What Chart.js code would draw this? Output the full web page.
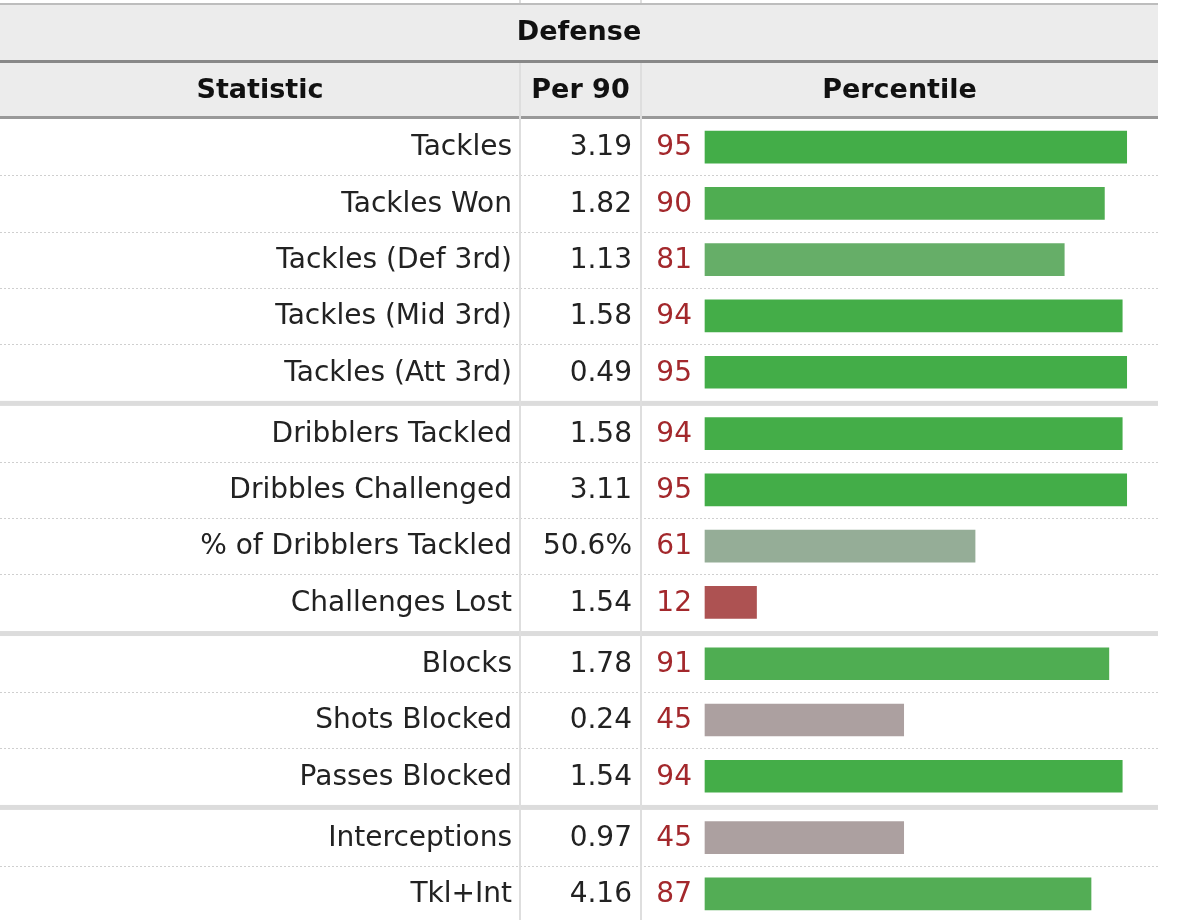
<!DOCTYPE html>
<html>
<head>
<meta charset="utf-8">
<script src="https://cdn.jsdelivr.net/npm/chart.js@4.4.1/dist/chart.umd.min.js"></script>
<style>
  html, body { margin: 0; padding: 0; background: #fff; overflow: hidden; }
  #wrap { position: relative; width: 1182px; height: 930px; }
</style>
</head>
<body>
<div id="wrap"><canvas id="defenseChart"></canvas></div>
<script>
const statistics = [
  "Tackles",
  "Tackles Won",
  "Tackles (Def 3rd)",
  "Tackles (Mid 3rd)",
  "Tackles (Att 3rd)",
  "Dribblers Tackled",
  "Dribbles Challenged",
  "% of Dribblers Tackled",
  "Challenges Lost",
  "Blocks",
  "Shots Blocked",
  "Passes Blocked",
  "Interceptions",
  "Tkl+Int",
];
const per90 = ["3.19", "1.82", "1.13", "1.58", "0.49", "1.58", "3.11", "50.6%", "1.54", "1.78", "0.24", "1.54", "0.97", "4.16"];
const percentiles = [95, 90, 81, 94, 95, 94, 95, 61, 12, 91, 45, 94, 45, 87];
// which block of the table each row belongs to
const groups = [0, 0, 0, 0, 0, 1, 1, 1, 1, 2, 2, 2, 3, 3];

const barColors = [
  "#43ad48", "#4fad51", "#66ae68", "#44ad48", "#43ad48",
  "#44ad48", "#43ad48", "#95ad97", "#ad5252",
  "#4fad52", "#aca0a0", "#44ad48",
  "#aca0a0", "#53ad55",
];

const FONT = "'DejaVu Sans', Verdana, sans-serif";
const TABLE_RIGHT = 1158;
const COL1 = 520;
const COL2 = 641;
const GROUP_GAP = 0.09; // extra row-height between blocks

// row slot on the y scale: row index plus a small gap per block
const rowSlot = (i) => i + groups[i] * GROUP_GAP;
const lastSlot = rowSlot(statistics.length - 1);

const tableDecor = {
  id: "tableDecor",
  beforeDraw(chart) {
    const ctx = chart.ctx;
    const y = chart.scales.y;
    ctx.save();
    ctx.fillStyle = "#fff";
    ctx.fillRect(0, 0, chart.width, chart.height);

    // header band
    ctx.fillStyle = "#ececec";
    ctx.fillRect(0, 5, TABLE_RIGHT, 112);
    ctx.fillStyle = "#bdbdbd";
    ctx.fillRect(0, 3, TABLE_RIGHT, 2);
    ctx.fillStyle = "#888";
    ctx.fillRect(0, 60, TABLE_RIGHT, 3);
    ctx.fillStyle = "#999";
    ctx.fillRect(0, 116, TABLE_RIGHT, 3);

    // row separators
    for (let i = 0; i < statistics.length - 1; i++) {
      const yb = (y.getPixelForValue(rowSlot(i)) + y.getPixelForValue(rowSlot(i + 1))) / 2;
      if (groups[i] !== groups[i + 1]) {
        ctx.fillStyle = "#dcdcdc";
        ctx.fillRect(0, yb - 2, TABLE_RIGHT, 5);
      } else {
        ctx.strokeStyle = "#cfcfcf";
        ctx.lineWidth = 1;
        ctx.setLineDash([2, 2]);
        ctx.beginPath();
        ctx.moveTo(0, Math.round(yb) + 0.5);
        ctx.lineTo(TABLE_RIGHT, Math.round(yb) + 0.5);
        ctx.stroke();
        ctx.setLineDash([]);
      }
    }

    // column lines
    ctx.fillStyle = "#dedede";
    ctx.fillRect(COL1 - 1, 63, 2, chart.height);
    ctx.fillRect(COL2 - 1, 63, 2, chart.height);
    ctx.fillRect(COL1 - 1, 0, 2, 3);
    ctx.fillRect(COL2 - 1, 0, 2, 3);

    // header text
    ctx.fillStyle = "#111";
    ctx.font = "bold 27px " + FONT;
    ctx.textBaseline = "middle";
    ctx.textAlign = "center";
    ctx.fillText("Defense", TABLE_RIGHT / 2, 33);
    ctx.fillText("Statistic", COL1 / 2, 91);
    ctx.fillText("Per 90", (COL1 + COL2) / 2, 91);
    ctx.fillText("Percentile", (COL2 + TABLE_RIGHT) / 2, 91);
    ctx.restore();
  },
  afterDatasetsDraw(chart) {
    const ctx = chart.ctx;
    const y = chart.scales.y;
    ctx.save();
    ctx.font = "28px " + FONT;
    ctx.textBaseline = "middle";
    ctx.textAlign = "right";
    statistics.forEach((name, i) => {
      const yc = y.getPixelForValue(rowSlot(i)) + 1;
      ctx.fillStyle = "#222";
      ctx.fillText(name, 512, yc);
      ctx.fillText(per90[i], 632, yc);
      ctx.fillStyle = "#a3282c";
      ctx.fillText(String(percentiles[i]), 692, yc);
    });
    ctx.restore();
  },
};

new Chart(document.getElementById("defenseChart"), {
  type: "bar",
  data: {
    datasets: [
      {
        data: percentiles.map((p, i) => ({ x: p, y: rowSlot(i) })),
        backgroundColor: barColors,
        borderColor: "rgba(255, 255, 255, 0.35)",
        borderWidth: 1,
        borderSkipped: false,
        barThickness: 34,
      },
    ],
  },
  options: {
    indexAxis: "y",
    responsive: true,
    maintainAspectRatio: false,
    animation: false,
    layout: {
      padding: { left: 704, right: 32, top: 119, bottom: 8 },
    },
    plugins: {
      legend: { display: false },
      tooltip: { enabled: false },
    },
    scales: {
      x: { type: "linear", display: false, min: 0, max: 100 },
      y: {
        type: "linear",
        display: false,
        reverse: true,
        offset: false,
        min: -0.5,
        max: lastSlot + 0.5,
        grid: { display: false, offset: false },
      },
    },
  },
  plugins: [tableDecor],
});
</script>
</body>
</html>
